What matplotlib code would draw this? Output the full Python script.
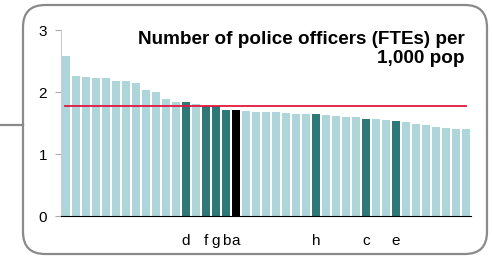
import numpy as np
import matplotlib.pyplot as plt
from matplotlib.patches import FancyBboxPatch
from matplotlib.lines import Line2D

plt.rcParams['font.family'] = ['Liberation Sans', 'DejaVu Sans']

# officers per 1,000 population, sorted
values = [2.58, 2.26, 2.25, 2.22, 2.22, 2.18, 2.17, 2.14, 2.04, 2.00,
          1.88, 1.84, 1.84, 1.81, 1.77, 1.77, 1.71, 1.71, 1.69, 1.68,
          1.67, 1.67, 1.66, 1.65, 1.65, 1.65, 1.63, 1.62, 1.60, 1.60,
          1.57, 1.56, 1.55, 1.54, 1.52, 1.48, 1.47, 1.44, 1.42, 1.41, 1.40]
# highlighted bars: index -> label
labels = {12: 'd', 14: 'f', 15: 'g', 16: 'b', 17: 'a', 25: 'h', 30: 'c', 33: 'e'}
selected = 17
average = 1.78

light = '#aed6da'
dark = '#2e7877'

W, H = 492, 259
fig = plt.figure(figsize=(W / 100, H / 100), dpi=100)

# frame around the chart
box = FancyBboxPatch((23 / W, 5 / H), 464 / W, 249 / H,
                     boxstyle='round,pad=0,rounding_size=0.045',
                     transform=fig.transFigure, fill=False,
                     edgecolor='#8a8a8a', linewidth=1.6,
                     mutation_aspect=W / H)
fig.patches.append(box)
fig.add_artist(Line2D([0, 23 / W], [1 - 125 / H, 1 - 125 / H],
                      transform=fig.transFigure, color='#8a8a8a', lw=1.6))

ax = fig.add_axes([61 / W, 1 - 216 / H, 410 / W, 186 / H])
x = np.arange(len(values))
colors = []
for i in x:
    if i == selected:
        colors.append('black')
    elif i in labels:
        colors.append(dark)
    else:
        colors.append(light)
ax.bar(x, values, width=0.8, color=colors)
ax.plot([x[0] - 0.1, x[-1]], [average, average], color='#e0173f', lw=1.3)

ax.set_xlim(-0.5, len(values) - 0.5)
ax.set_ylim(0, 3)
ax.set_yticks([0, 1, 2, 3])
ax.tick_params(axis='y', length=4, color='#aaaaaa', labelsize=11, pad=6)
ax.set_xticks(list(labels.keys()))
ax.set_xticklabels(list(labels.values()), fontsize=11)
ax.tick_params(axis='x', length=0, pad=13)
for s in ['top', 'right']:
    ax.spines[s].set_visible(False)
ax.spines['left'].set_color('#cccccc')
ax.spines['bottom'].set_color('black')

ax.text(0.985, 0.997, 'Number of police officers (FTEs) per\n1,000 pop',
        transform=ax.transAxes, ha='right', va='top', fontsize=13.6,
        fontweight='bold', linespacing=1.22)

fig.savefig('out.png', dpi=100)
